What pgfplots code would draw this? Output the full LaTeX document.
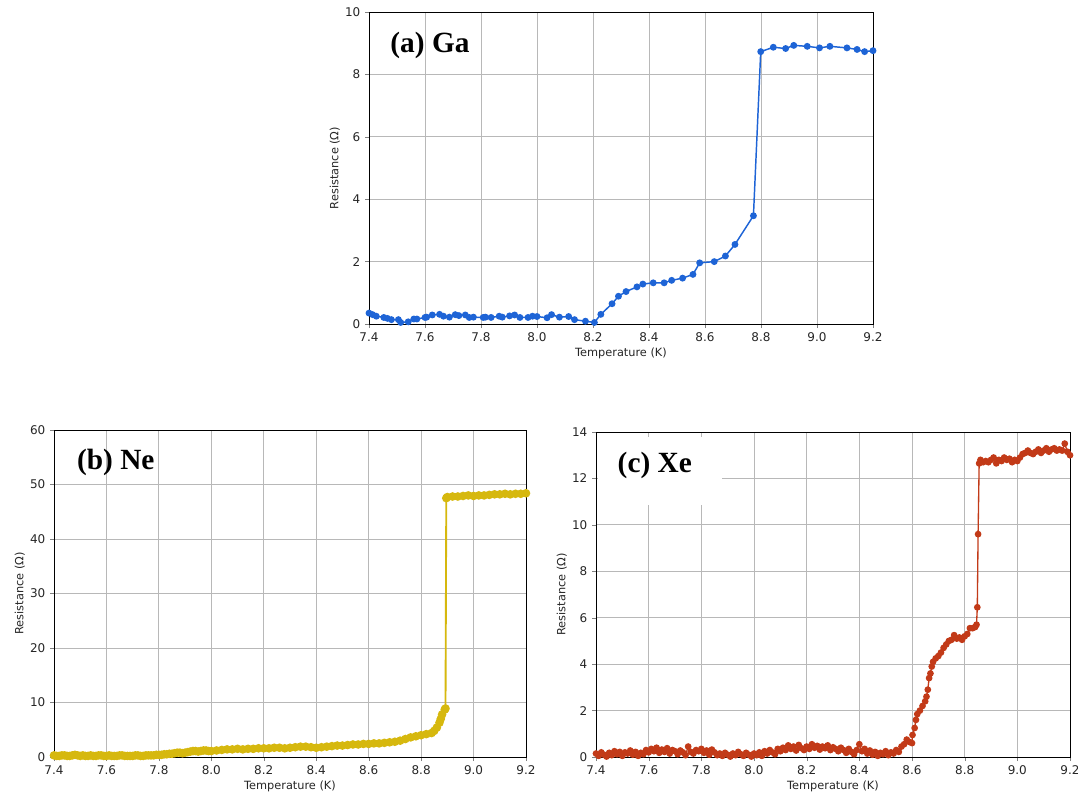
\documentclass[border=0pt]{standalone}
\usepackage{fontspec}
\setmainfont{DejaVu Sans}
\newfontfamily\tnr{Liberation Serif}
\usepackage{pgfplots}
\pgfplotsset{compat=1.18}

\definecolor{gablue}{HTML}{1E64D6}
\definecolor{neyellow}{HTML}{D6B80E}
\definecolor{xered}{HTML}{C23A18}

\pgfplotsset{
  rplot/.style={
    scale only axis,
    xmin=7.4, xmax=9.2, ymin=0,
    xtick={7.4,7.6,7.8,8.0,8.2,8.4,8.6,8.8,9.0,9.2},
    xticklabel style={/pgf/number format/fixed,/pgf/number format/fixed zerofill,/pgf/number format/precision=1},
    /pgf/number format/assume math mode=true,
    grid=major,
    grid style={color=black!28, line width=0.7pt},
    tick align=outside, tick pos=left,
    major tick length=3pt,
    axis line style={line width=0.6pt},
    ticklabel style={font=\fontsize{9}{10}\selectfont, text=black!85},
    label style={font=\fontsize{8.5}{10}\selectfont, text=black!85},
    xlabel={Temperature (K)},
    ylabel={Resistance (Ω)},
    xlabel style={yshift=2pt},
    ylabel style={yshift=-3pt},
  },
}
\tikzset{panel/.style={font=\tnr\bfseries\fontsize{22}{24}\selectfont}}

\begin{document}
\begin{tikzpicture}
\useasboundingbox (0,0) rectangle (808.5pt,-595.5pt);

% (a) Ga
\begin{axis}[rplot, at={(276.75pt,-243pt)}, anchor=south west,
  width=378pt, height=234pt, ymax=10, ytick={0,2,4,6,8,10}]
\addplot[color=gablue, line width=1.1pt, mark=*, mark size=2pt] coordinates {
(7.400,0.35)(7.413,0.30)(7.426,0.25)(7.453,0.21)(7.466,0.18)(7.480,0.14)
(7.505,0.14)(7.513,0.05)(7.540,0.07)(7.560,0.16)(7.571,0.16)(7.600,0.21)
(7.606,0.22)(7.626,0.29)(7.652,0.31)(7.666,0.25)(7.687,0.22)(7.708,0.30)
(7.721,0.27)(7.744,0.29)(7.758,0.21)(7.773,0.22)(7.808,0.21)(7.816,0.22)
(7.836,0.21)(7.865,0.25)(7.876,0.22)(7.902,0.26)(7.920,0.29)(7.939,0.21)
(7.968,0.21)(7.984,0.25)(8.000,0.24)(8.036,0.20)(8.052,0.30)(8.080,0.22)
(8.113,0.24)(8.134,0.14)(8.173,0.09)(8.205,0.05)(8.228,0.31)(8.268,0.65)
(8.291,0.89)(8.318,1.04)(8.357,1.19)(8.378,1.28)(8.415,1.32)(8.454,1.32)
(8.481,1.40)(8.520,1.47)(8.557,1.59)(8.581,1.96)(8.633,2.00)(8.673,2.18)
(8.707,2.55)(8.773,3.47)(8.799,8.73)(8.844,8.87)(8.888,8.83)(8.917,8.93)
(8.965,8.90)(9.009,8.85)(9.046,8.90)(9.107,8.85)(9.143,8.80)(9.170,8.73)
(9.200,8.76)};
\node[panel] at (rel axis cs:0.121,0.894) {(a) Ga};
\end{axis}

% (b) Ne
\begin{axis}[rplot, at={(40.5pt,-567.75pt)}, anchor=south west,
  width=354pt, height=245.25pt, ymax=60, ytick={0,10,20,30,40,50,60}]
\addplot[color=neyellow, line width=1.4pt, mark=*, mark size=2.5pt] coordinates {
(7.40,0.3)(7.41,0.2)(7.42,0.2)(7.43,0.3)(7.44,0.3)(7.45,0.2)(7.46,0.2)(7.47,0.3)(7.48,0.4)(7.49,0.3)(7.50,0.2)
(7.51,0.3)(7.52,0.2)(7.53,0.2)(7.54,0.3)(7.55,0.2)(7.56,0.2)(7.57,0.3)(7.58,0.3)(7.59,0.2)(7.60,0.2)
(7.61,0.3)(7.62,0.2)(7.63,0.2)(7.64,0.2)(7.65,0.3)(7.66,0.3)(7.67,0.2)(7.68,0.2)(7.69,0.2)(7.70,0.2)
(7.71,0.3)(7.72,0.3)(7.73,0.2)(7.74,0.2)(7.75,0.3)(7.76,0.3)(7.77,0.3)(7.78,0.3)(7.79,0.4)(7.80,0.4)
(7.81,0.4)(7.82,0.5)(7.83,0.5)(7.84,0.6)(7.85,0.6)(7.86,0.7)(7.87,0.8)(7.88,0.8)(7.89,0.7)(7.90,0.8)
(7.91,0.9)(7.92,1.0)(7.93,1.1)(7.94,1.1)(7.95,1.0)(7.96,1.1)(7.97,1.2)(7.98,1.2)(7.99,1.1)(8.00,1.1)
(8.02,1.2)(8.04,1.3)(8.06,1.4)(8.08,1.4)
(8.10,1.5)(8.12,1.4)(8.14,1.5)(8.16,1.5)(8.18,1.6)(8.20,1.6)(8.22,1.6)
(8.24,1.7)(8.26,1.7)(8.28,1.6)(8.30,1.7)(8.32,1.8)(8.34,1.9)(8.36,1.9)
(8.38,1.8)(8.40,1.7)(8.42,1.8)(8.44,1.9)(8.46,2.0)(8.48,2.1)(8.50,2.1)
(8.52,2.2)(8.54,2.3)(8.56,2.3)(8.58,2.4)(8.60,2.4)(8.62,2.5)(8.64,2.5)
(8.66,2.6)(8.68,2.7)(8.70,2.8)(8.72,3.0)(8.74,3.3)(8.76,3.6)(8.78,3.8)
(8.80,4.0)(8.82,4.2)(8.84,4.4)(8.85,4.8)(8.86,5.4)(8.87,6.3)(8.875,7.0)
(8.88,7.8)(8.89,8.7)(8.893,8.9)(8.896,47.5)(8.90,47.7)(8.92,47.8)
(8.94,47.8)(8.96,47.9)(8.98,48.0)(9.00,47.9)(9.02,48.0)(9.04,48.0)
(9.06,48.1)(9.08,48.2)(9.10,48.2)(9.12,48.3)(9.14,48.2)(9.16,48.3)
(9.18,48.3)(9.20,48.4)};
\node[panel] at (rel axis cs:0.131,0.902) {(b) Ne};
\end{axis}

% (c) Xe
\begin{axis}[rplot, at={(447pt,-567.75pt)}, anchor=south west,
  width=355.5pt, height=243.75pt, ymax=14, ytick={0,2,4,6,8,10,12,14}]
\fill[white] (rel axis cs:0.004,0.775) rectangle (rel axis cs:0.266,0.985);
\addplot[color=xered, line width=1pt, mark=*, mark size=2pt] coordinates {
(7.40,0.15)(7.41,0.05)(7.42,0.20)(7.43,0.10)(7.44,0.02)(7.45,0.18)(7.46,0.08)
(7.47,0.25)(7.48,0.12)(7.49,0.22)(7.50,0.05)(7.51,0.20)(7.52,0.15)(7.53,0.28)
(7.54,0.10)(7.55,0.22)(7.56,0.05)(7.57,0.18)(7.58,0.12)(7.59,0.30)(7.60,0.20)
(7.61,0.35)(7.62,0.25)(7.63,0.40)(7.64,0.18)(7.65,0.32)(7.66,0.22)(7.67,0.38)
(7.68,0.15)(7.69,0.30)(7.70,0.25)(7.71,0.12)(7.72,0.28)(7.73,0.20)(7.74,0.08)
(7.75,0.45)(7.76,0.22)(7.77,0.15)(7.78,0.30)(7.79,0.25)(7.80,0.35)(7.81,0.18)
(7.82,0.28)(7.83,0.10)(7.84,0.32)(7.85,0.20)(7.86,0.08)(7.87,0.15)(7.88,0.05)
(7.89,0.18)(7.90,0.10)(7.91,0.02)(7.92,0.15)(7.93,0.08)(7.94,0.22)(7.95,0.12)
(7.96,0.05)(7.97,0.18)(7.98,0.10)(7.99,0.02)(8.00,0.15)(8.01,0.08)(8.02,0.20)
(8.03,0.05)(8.04,0.25)(8.05,0.15)(8.06,0.30)(8.07,0.20)(8.08,0.12)(8.09,0.35)
(8.10,0.25)(8.11,0.40)(8.12,0.30)(8.13,0.50)(8.14,0.35)(8.15,0.45)(8.16,0.28)
(8.17,0.52)(8.18,0.38)(8.19,0.30)(8.20,0.45)(8.21,0.35)(8.22,0.55)(8.23,0.40)
(8.24,0.48)(8.25,0.32)(8.26,0.45)(8.27,0.38)(8.28,0.50)(8.29,0.30)(8.30,0.42)
(8.31,0.35)(8.32,0.25)(8.33,0.40)(8.34,0.30)(8.35,0.18)(8.36,0.35)(8.37,0.22)
(8.38,0.12)(8.39,0.30)(8.40,0.55)(8.41,0.25)(8.42,0.35)(8.43,0.15)(8.44,0.28)
(8.45,0.10)(8.46,0.22)(8.47,0.05)(8.48,0.18)(8.49,0.12)(8.50,0.25)(8.51,0.08)
(8.52,0.20)(8.53,0.15)(8.54,0.30)(8.55,0.22)(8.56,0.45)(8.57,0.55)(8.58,0.75)
(8.59,0.65)(8.60,0.60)(8.602,0.95)(8.61,1.25)(8.615,1.60)(8.62,1.85)(8.63,2.00)
(8.64,2.20)(8.65,2.40)(8.655,2.60)(8.66,2.90)(8.665,3.40)(8.67,3.60)(8.675,3.90)
(8.68,4.10)(8.69,4.25)(8.70,4.35)(8.71,4.50)(8.72,4.70)(8.73,4.85)(8.74,5.00)
(8.75,5.05)(8.76,5.25)(8.77,5.10)(8.78,5.15)(8.79,5.05)(8.80,5.20)(8.81,5.30)
(8.82,5.55)(8.83,5.55)(8.84,5.60)(8.845,5.70)(8.848,6.45)(8.851,9.60)(8.855,12.65)
(8.86,12.80)(8.87,12.70)(8.88,12.75)(8.89,12.70)(8.90,12.80)(8.91,12.90)(8.92,12.65)
(8.93,12.80)(8.94,12.75)(8.95,12.90)(8.96,12.80)(8.97,12.85)(8.98,12.70)(8.99,12.80)
(9.00,12.75)(9.01,12.90)(9.02,13.05)(9.03,13.10)(9.04,13.20)(9.05,13.10)(9.06,13.05)
(9.07,13.15)(9.08,13.25)(9.09,13.10)(9.10,13.20)(9.11,13.30)(9.12,13.15)(9.13,13.25)
(9.14,13.30)(9.15,13.20)(9.16,13.25)(9.17,13.20)(9.18,13.50)(9.19,13.15)(9.20,13.00)};
\node[panel] at (rel axis cs:0.124,0.898) {(c) Xe};
\end{axis}
\end{tikzpicture}
\end{document}
